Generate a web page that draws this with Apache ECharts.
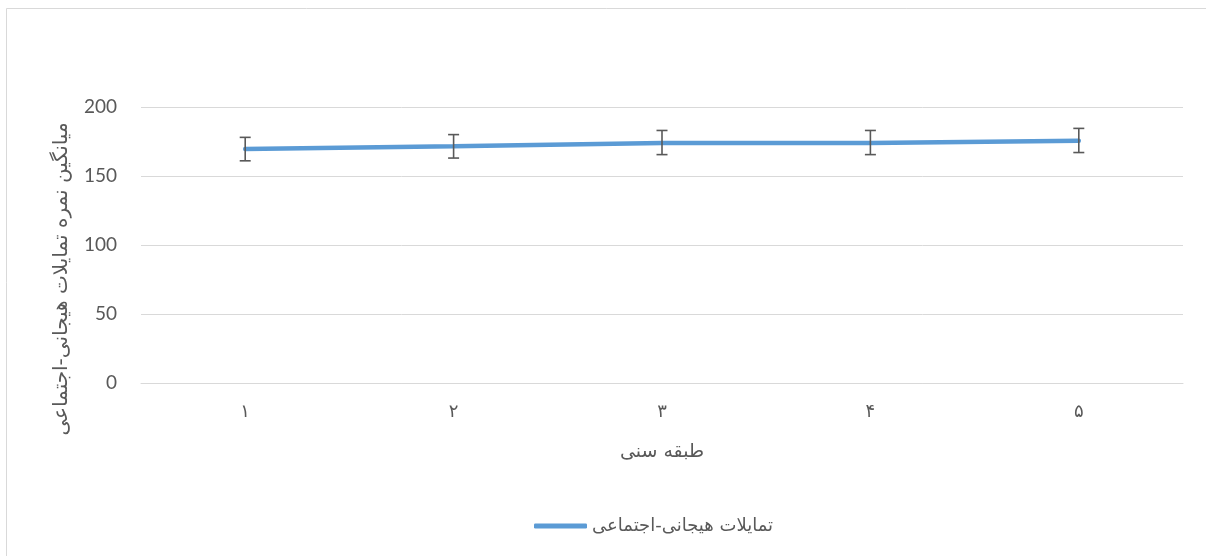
<!DOCTYPE html>
<html><head><meta charset="utf-8">
<script src="https://cdn.jsdelivr.net/npm/echarts@6/dist/echarts.min.js"></script>
<style>html,body{margin:0;padding:0;background:#fff}#c{width:1206px;height:556px}</style>
</head><body><div id="c"></div>
<script>
const categories = ['۱','۲','۳','۴','۵'];
const means = [169.5, 171.5, 174, 174, 175.5];
const errUpper = [178, 180, 183, 183, 184.5];
const errLower = [161, 163, 165.5, 165.5, 167];
const yTicks = {min: 0, max: 200, interval: 50};
const seriesName = 'تمایلات هیجانی-اجتماعی';
const xTitle = 'طبقه سنی';
const yTitle = 'میانگین نمره تمایلات هیجانی-اجتماعی';

const numFont = "Lato, 'DejaVu Sans', sans-serif";
const arFont = "'DejaVu Sans', 'Noto Sans', sans-serif";
const textColor = '#595959';

const chart = echarts.init(document.getElementById('c'), null, {renderer: 'canvas'});
const errData = categories.map((c, i) => [i, errLower[i], errUpper[i]]);

chart.setOption({
  animation: false,
  backgroundColor: '#fff',
  grid: {left: 141, right: 23, top: 107, bottom: 173, containLabel: false},
  graphic: [
    {type: 'rect', shape: {x: 6.5, y: 8.5, width: 1300, height: 700},
     style: {fill: 'none', stroke: '#d9d9d9', lineWidth: 1}, silent: true},
    {type: 'text', x: 62, y: 279, rotation: Math.PI / 2,
     style: {text: yTitle, font: "20px " + arFont, fill: textColor, align: 'center', verticalAlign: 'middle'}}
  ],
  legend: {
    data: [{name: seriesName, icon: 'roundRect', itemStyle: {color: '#5b9bd5'}}],
    left: 529, top: 512, itemWidth: 53, itemHeight: 5, itemGap: 10,
    textStyle: {fontFamily: arFont, fontSize: 18, color: textColor, padding: [0, 0, 0, 0]}
  },
  xAxis: {
    type: 'category', data: categories, boundaryGap: true,
    axisLine: {show: true, lineStyle: {color: '#d9d9d9', width: 1}},
    axisTick: {show: false},
    axisLabel: {fontFamily: arFont, fontSize: 18, color: textColor, margin: 20},
    name: xTitle, nameLocation: 'middle', nameGap: 60,
    nameTextStyle: {fontFamily: arFont, fontSize: 19, color: textColor}
  },
  yAxis: {
    type: 'value', min: yTicks.min, max: yTicks.max, interval: yTicks.interval,
    axisLine: {show: false}, axisTick: {show: false},
    axisLabel: {fontFamily: numFont, fontSize: 19, color: textColor, margin: 24},
    splitLine: {lineStyle: {color: '#d9d9d9', width: 1}}
  },
  series: [
    {
      name: seriesName, type: 'line', data: means, symbol: 'none', z: 3,
      lineStyle: {color: '#5b9bd5', width: 4.5, cap: 'round'},
      itemStyle: {color: '#5b9bd5'}
    },
    {
      name: 'err', type: 'custom', data: errData, z: 4,
      renderItem: function (params, api) {
        const x = api.value(0);
        const lo = api.coord([x, api.value(1)]);
        const hi = api.coord([x, api.value(2)]);
        const hw = 5.5;
        const st = {stroke: '#595959', lineWidth: 1.6, fill: 'none'};
        return {type: 'group', children: [
          {type: 'line', shape: {x1: hi[0], y1: hi[1], x2: lo[0], y2: lo[1]}, style: st},
          {type: 'line', shape: {x1: hi[0] - hw, y1: hi[1], x2: hi[0] + hw, y2: hi[1]}, style: st},
          {type: 'line', shape: {x1: lo[0] - hw, y1: lo[1], x2: lo[0] + hw, y2: lo[1]}, style: st}
        ]};
      }
    }
  ]
});
</script></body></html>
